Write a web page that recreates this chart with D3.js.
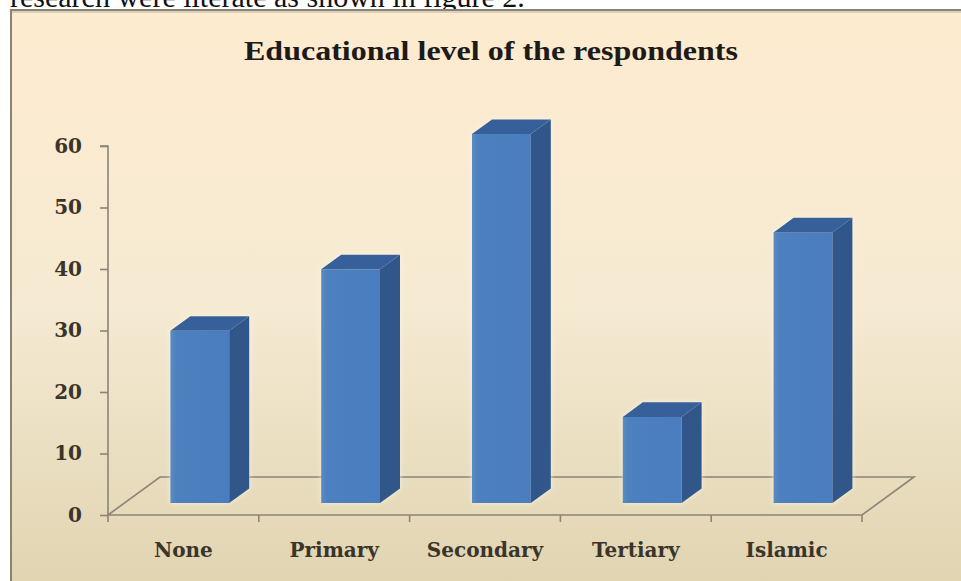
<!DOCTYPE html>
<html>
<head>
<meta charset="utf-8">
<script src="https://cdn.jsdelivr.net/npm/d3@7/dist/d3.min.js"></script>
<style>
  html, body { margin: 0; padding: 0; background: #ffffff; }
  svg { display: block; }
</style>
</head>
<body>
<svg id="chart" width="961" height="581"></svg>
<script>
// Educational level of the respondents (counts)
const categories = ["None", "Primary", "Secondary", "Tertiary", "Islamic"];
const values = [28, 38, 60, 14, 44];
const yTicks = [0, 10, 20, 30, 40, 50, 60];

const svg = d3.select("#chart");

// plot geometry (front plane of the 3-D floor)
const plotLeft = 108, plotRight = 862, plotBase = 515, plotTop = 146;
const floorDx = 52, floorDy = -38;           // floor depth projection
const barOffX = 16.4, barOffY = -12;          // bar front face depth
const barDepthX = 20, barDepthY = -14.6;      // bar thickness in depth
const barFrac = 0.39;

const x = d3.scaleBand().domain(categories).range([plotLeft, plotRight]).padding(0);
const y = d3.scaleLinear().domain([0, 60]).range([plotBase, plotTop]);

const defs = svg.append("defs");
const bg = defs.append("linearGradient").attr("id", "bg")
  .attr("x1", 0).attr("y1", 0).attr("x2", 0).attr("y2", 1);
bg.append("stop").attr("offset", "0%").attr("stop-color", "#feebd0");
bg.append("stop").attr("offset", "50%").attr("stop-color", "#f5ead2");
bg.append("stop").attr("offset", "100%").attr("stop-color", "#ded2ae");

const front = defs.append("linearGradient").attr("id", "front")
  .attr("x1", 0).attr("y1", 0).attr("x2", 1).attr("y2", 0);
front.append("stop").attr("offset", "0%").attr("stop-color", "#5a8cc2");
front.append("stop").attr("offset", "10%").attr("stop-color", "#4d80bf");
front.append("stop").attr("offset", "100%").attr("stop-color", "#4a7dbd");

const glow = defs.append("filter").attr("id", "glow")
  .attr("x", "-20%").attr("y", "-20%").attr("width", "140%").attr("height", "140%");
glow.append("feGaussianBlur").attr("stdDeviation", 2.5);

// page text line above the figure
svg.append("text")
  .attr("x", 10).attr("y", 7)
  .attr("font-family", "'Liberation Serif', 'Times New Roman', serif")
  .attr("font-size", 30)
  .attr("fill", "#111")
  .text("research were literate as shown in figure 2.");

// chart frame
svg.append("rect")
  .attr("x", 11).attr("y", 10).attr("width", 960).attr("height", 600)
  .attr("fill", "url(#bg)")
  .attr("stroke", "#8a8373").attr("stroke-width", 2);
svg.append("line")
  .attr("x1", 12).attr("x2", 961).attr("y1", 12).attr("y2", 12)
  .attr("stroke", "#d9cfbb").attr("stroke-width", 2);

// title
svg.append("text")
  .attr("x", 491).attr("y", 60)
  .attr("text-anchor", "middle")
  .attr("font-family", "'Liberation Serif', 'Times New Roman', serif")
  .attr("font-weight", "bold")
  .attr("font-size", 28)
  .attr("textLength", 494)
  .attr("lengthAdjust", "spacingAndGlyphs")
  .attr("fill", "#1c1b18")
  .text("Educational level of the respondents");

const axisColor = "#8b8477";

// floor parallelogram
const floor = d3.path();
floor.moveTo(plotLeft, plotBase);
floor.lineTo(plotRight, plotBase);
floor.lineTo(plotRight + floorDx, plotBase + floorDy);
floor.lineTo(plotLeft + floorDx, plotBase + floorDy);
floor.closePath();
svg.append("path").attr("d", floor.toString())
  .attr("fill", "none").attr("stroke", axisColor).attr("stroke-width", 1.6);

// y axis
const yAxis = d3.axisLeft(y).tickValues(yTicks).tickSize(8).tickPadding(18);
const gy = svg.append("g").attr("transform", `translate(${plotLeft},0)`).call(yAxis);
gy.select(".domain").attr("stroke", axisColor).attr("stroke-width", 1.6).attr("d", `M-8,${plotTop}H0V${plotBase}`);
gy.selectAll(".tick line").attr("stroke", axisColor).attr("stroke-width", 1.6);
gy.selectAll(".tick text")
  .attr("font-family", "'DejaVu Serif', serif")
  .attr("font-weight", "bold")
  .attr("font-size", 20)
  .attr("fill", "#3a342b");

// x axis ticks along the front floor edge
const xTickPos = categories.map(c => x(c)).concat([plotRight]);
svg.append("g").selectAll("line").data(xTickPos).join("line")
  .attr("x1", d => d).attr("x2", d => d)
  .attr("y1", plotBase).attr("y2", plotBase + 7)
  .attr("stroke", axisColor).attr("stroke-width", 1.6);

svg.append("g").selectAll("text").data(categories).join("text")
  .attr("x", d => x(d) + x.bandwidth() / 2)
  .attr("y", 557)
  .attr("text-anchor", "middle")
  .attr("font-family", "'DejaVu Serif', serif")
  .attr("font-weight", "bold")
  .attr("font-size", 20)
  .attr("fill", "#3a342b")
  .text(d => d);

// 3-D bars
const bw = x.bandwidth() * barFrac;
const bars = svg.append("g").selectAll("g").data(categories.map((c, i) => ({ c, v: values[i] }))).join("g");

bars.each(function (d) {
  const g = d3.select(this);
  const cx = x(d.c) + x.bandwidth() / 2 + barOffX;
  const x0 = cx - bw / 2, x1 = cx + bw / 2;
  const yb = y(0) + barOffY, yt = y(d.v) + barOffY;
  const ddx = barDepthX, ddy = barDepthY;

  const outline = [[x0, yb], [x0, yt], [x0 + ddx, yt + ddy], [x1 + ddx, yt + ddy], [x1 + ddx, yb + ddy], [x1, yb]];
  g.append("polygon").attr("points", outline.map(p => p.join(",")).join(" "))
    .attr("fill", "#fbf6e8").attr("opacity", 0.85).attr("filter", "url(#glow)");

  g.append("rect").attr("x", x0).attr("y", yt).attr("width", bw).attr("height", yb - yt)
    .attr("fill", "url(#front)");
  g.append("polygon")
    .attr("points", [[x1, yt], [x1 + ddx, yt + ddy], [x1 + ddx, yb + ddy], [x1, yb]].map(p => p.join(",")).join(" "))
    .attr("fill", "#30568a");
  g.append("polygon")
    .attr("points", [[x0, yt], [x1, yt], [x1 + ddx, yt + ddy], [x0 + ddx, yt + ddy]].map(p => p.join(",")).join(" "))
    .attr("fill", "#37609a");
});
</script>
</body>
</html>
